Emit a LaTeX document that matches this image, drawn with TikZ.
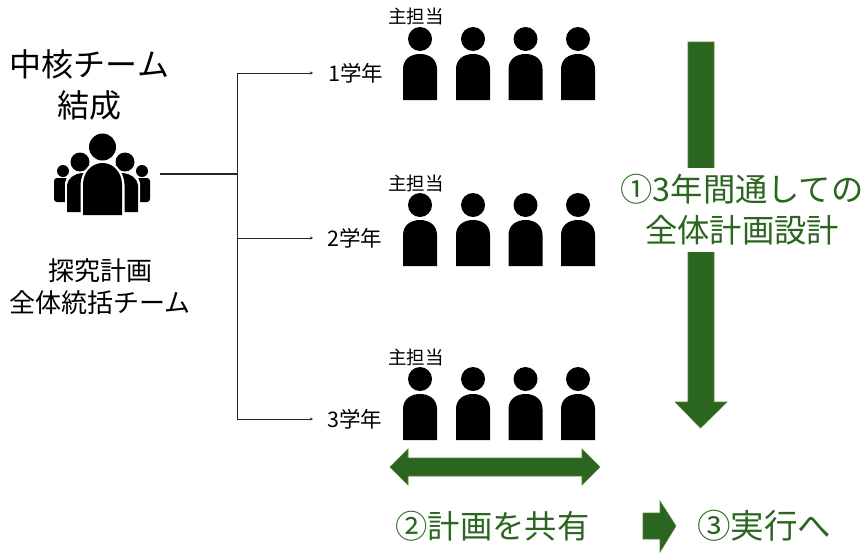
\documentclass[tikz,border=0pt]{standalone}
\usepackage{fontspec}
\usetikzlibrary{arrows.meta}
\setmainfont{Noto Sans CJK JP}
\definecolor{dgreen}{HTML}{2A661F}
\definecolor{egreen}{HTML}{548235}
\tikzset{
  lbl/.style={inner sep=0pt,outer sep=0pt,align=center},
  big/.style={lbl,font=\fontsize{32}{41}\selectfont},
  mid/.style={lbl,font=\fontsize{26}{32.5}\selectfont},
  small/.style={lbl,font=\fontsize{18.5}{20}\selectfont},
  grade/.style={lbl,font=\fontsize{21.5}{24}\selectfont},
  gtxt/.style={lbl,text=dgreen,font=\fontsize{32.3}{41}\selectfont},
  gtxtb/.style={lbl,text=dgreen,font=\fontsize{33.5}{41}\selectfont},
  link/.style={draw=black!85,line width=0.75pt},
  garrow/.style={fill=dgreen,draw=egreen,line width=0.6pt},
}
\newcommand{\person}[2]{%
  \fill (#1,#2) circle[radius=12];
  \fill ({#1-17},{#2+61}) -- ({#1-17},{#2+30})
     .. controls ({#1-17},{#2+20}) and ({#1-9},{#2+15}) .. ({#1},{#2+15})
     .. controls ({#1+9},{#2+15}) and ({#1+17},{#2+20}) .. ({#1+17},{#2+30})
     -- ({#1+17},{#2+61}) -- cycle;}
\newcommand{\rowofpeople}[1]{%
  \person{420}{#1}\person{473}{#1}\person{525.5}{#1}\person{578}{#1}}
\begin{document}
\begin{tikzpicture}[x=1pt,y=-1pt]
\useasboundingbox (0,0) rectangle (866,554);
\node[big] (title) at (89.5,84.5) {中核チーム\\結成};
\node[mid] (team) at (100,286.5) {探究計画\\全体統括チーム};
% group icon: back to front, each figure with a white halo
\fill (63,171) circle[radius=6];
\fill (142,171) circle[radius=6];
\fill[rounded corners=3pt] (54,202) -- (54,178) -- (70,178) -- (70,202) -- cycle;
\fill[rounded corners=3pt] (150,202) -- (150,178) -- (135,178) -- (135,202) -- cycle;
\fill[white] (65,216) -- (65,183) .. controls (66,176) and (72,171) .. (80,170) -- (90,170) -- (90,216) -- cycle;
\fill[white] (140,216) -- (140,183) .. controls (139,176) and (133,171) .. (125,170) -- (115,170) -- (115,216) -- cycle;
\fill (80,162) circle[radius=9.5];
\fill (125,162) circle[radius=9.5];
\fill (67,212) -- (67,185) .. controls (68,178) and (74,174) .. (82,173) -- (92,173) -- (92,212) -- cycle;
\fill (138,212) -- (138,185) .. controls (137,178) and (131,174) .. (123,173) -- (113,173) -- (113,212) -- cycle;
\fill[white] (80.5,216) -- (80.5,185) .. controls (81,170) and (92,160.5) .. (102.5,160.5)
   .. controls (113,160.5) and (124,170) .. (124.5,185) -- (124.5,216) -- cycle;
\fill (102.5,147) circle[radius=13.5];
\fill (83,215) -- (83,185) .. controls (83,172) and (92,163) .. (102.5,163)
   .. controls (113,163) and (122,172) .. (122,185) -- (122,215) -- cycle;
\coordinate (icon) at (160,174);
\coordinate (hub) at (237,174);
\rowofpeople{39}
\rowofpeople{205}
\rowofpeople{379}
\node[small] (lead1) at (416,16) {主担当};
\node[small] (lead2) at (416,183) {主担当};
\node[small] (lead3) at (416,357) {主担当};
\node[grade] (g1t) at (356,73) {1学年};
\node[grade] (g2t) at (355,238) {2学年};
\node[grade] (g3t) at (355,419) {3学年};
\coordinate (g1) at (313,73);
\coordinate (g2) at (313,238);
\coordinate (g3) at (313,419);
\coordinate (ttop) at (237,73);
\coordinate (tmid) at (237,238);
\coordinate (tbot) at (237,419);
\draw[link,line width=1.1pt] (icon) -- (hub);
\draw[link] (ttop) -- (tbot);
\draw[link,-{Stealth[length=3pt,width=3pt]}] (ttop) -- (g1);
\draw[link,-{Stealth[length=3pt,width=3pt]}] (tmid) -- (g2);
\draw[link,-{Stealth[length=3pt,width=3pt]}] (tbot) -- (g3);
\draw[garrow] (688,42) -- (714,42) -- (714,402) -- (727,402) -- (700.5,428) -- (675,402) -- (688,402) -- cycle;
\node[gtxt,fill=white,minimum width=242pt,minimum height=84pt] (plan) at (742,209.5) {①3年間通しての\\全体計画設計};
\draw[garrow] (390,467) -- (408,449) -- (408,458) -- (582,458) -- (582,449) -- (600,467) -- (582,485) -- (582,476) -- (408,476) -- (408,485) -- cycle;
\draw[garrow] (643,513) -- (660,513) -- (660,501) -- (676,526) -- (660,552) -- (660,539) -- (643,539) -- cycle;
\node[gtxt] (share) at (492.5,526) {②計画を共有};
\node[gtxtb] (exec) at (764,526) {③実行へ};
\end{tikzpicture}
\end{document}
